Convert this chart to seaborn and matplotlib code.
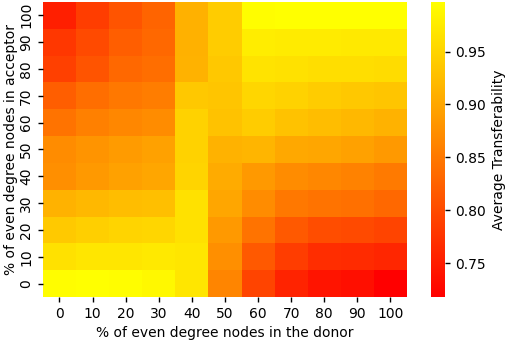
import numpy as np
import pandas as pd
import seaborn as sns
import matplotlib
matplotlib.use("Agg")
import matplotlib.pyplot as plt

# % of even degree nodes
donor_pct = [0, 10, 20, 30, 40, 50, 60, 70, 80, 90, 100]
acceptor_pct = [100, 90, 80, 70, 60, 50, 40, 30, 20, 10, 0]  # top -> bottom

# average transferability, one row per acceptor value (top row = 100)
acc_100 = [0.752, 0.785, 0.810, 0.827, 0.911, 0.941, 0.994, 0.997, 0.997, 0.997, 0.997]
acc_90 = [0.779, 0.799, 0.821, 0.832, 0.911, 0.941, 0.977, 0.975, 0.975, 0.972, 0.972]
acc_80 = [0.788, 0.810, 0.832, 0.838, 0.913, 0.936, 0.966, 0.964, 0.961, 0.961, 0.958]
acc_70 = [0.821, 0.838, 0.849, 0.855, 0.936, 0.933, 0.952, 0.947, 0.941, 0.936, 0.933]
acc_60 = [0.844, 0.858, 0.866, 0.871, 0.947, 0.930, 0.941, 0.930, 0.924, 0.919, 0.913]
acc_50 = [0.871, 0.880, 0.888, 0.894, 0.947, 0.913, 0.916, 0.902, 0.899, 0.894, 0.885]
acc_40 = [0.874, 0.885, 0.894, 0.899, 0.950, 0.905, 0.885, 0.871, 0.866, 0.860, 0.852]
acc_30 = [0.913, 0.919, 0.924, 0.927, 0.964, 0.899, 0.871, 0.849, 0.844, 0.841, 0.832]
acc_20 = [0.938, 0.944, 0.950, 0.952, 0.964, 0.885, 0.844, 0.816, 0.802, 0.799, 0.793]
acc_10 = [0.964, 0.969, 0.969, 0.972, 0.969, 0.874, 0.816, 0.785, 0.768, 0.765, 0.760]
acc_0 = [0.994, 0.997, 0.994, 0.989, 0.969, 0.863, 0.793, 0.757, 0.740, 0.735, 0.718]

rows = [acc_100, acc_90, acc_80, acc_70, acc_60, acc_50,
        acc_40, acc_30, acc_20, acc_10, acc_0]
df = pd.DataFrame(rows, index=acceptor_pct, columns=donor_pct)

plt.rcParams['font.family'] = ['DejaVu Sans']

fig = plt.figure(figsize=(5.05, 3.4), dpi=100)
ax = fig.add_axes([0.085, 0.1265, 0.721, 0.868])
cax = fig.add_axes([0.853, 0.1265, 0.028, 0.868])

sns.heatmap(df, cmap="autumn", ax=ax, cbar_ax=cax,
            cbar_kws={"label": "Average Transferability"})

ax.set_xlabel("% of even degree nodes in the donor", fontsize=10)
ax.set_ylabel("% of even degree nodes in acceptor", fontsize=10)
ax.yaxis.set_label_coords(-0.068, 0.5)
ax.tick_params(axis='both', length=3.5, width=1, labelsize=10, color='black')
plt.setp(ax.get_yticklabels(), rotation=90, va="center")
plt.setp(ax.get_xticklabels(), rotation=0)

cax.tick_params(length=3.5, width=1, labelsize=10, color='black')
cax.yaxis.label.set_size(10)
cax.yaxis.set_label_coords(4.3, 0.5)

fig.savefig("out.png", dpi=100)
